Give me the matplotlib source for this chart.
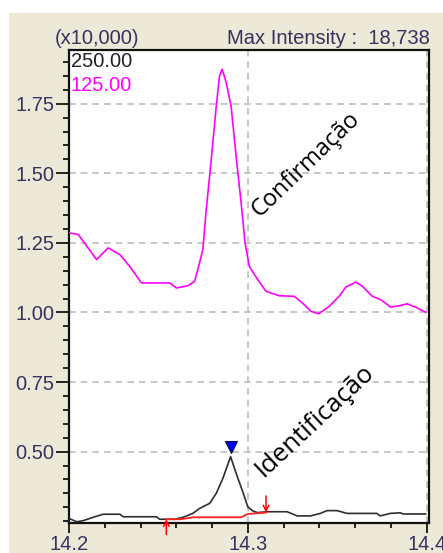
import matplotlib
matplotlib.use("Agg")
import matplotlib.pyplot as plt
from matplotlib.ticker import MultipleLocator, FormatStrFormatter
from matplotlib.transforms import offset_copy

# ---- data ----
ch125_x = [14.2000, 14.2052, 14.2154, 14.2219, 14.2284, 14.2340, 14.2405, 14.2563, 14.2600,
           14.2665, 14.2702, 14.2720, 14.2748, 14.2767, 14.2795, 14.2823, 14.2841, 14.2856,
           14.2879, 14.2906, 14.2934, 14.2962, 14.2984, 14.3008, 14.3055, 14.3101, 14.3175,
           14.3259, 14.3305, 14.3352, 14.3395, 14.3454, 14.3510, 14.3547, 14.3603, 14.3640,
           14.3695, 14.3742, 14.3798, 14.3844, 14.3890, 14.3937, 14.3993]
ch125_y = [1.286, 1.280, 1.190, 1.232, 1.208, 1.165, 1.106, 1.106, 1.088,
           1.096, 1.112, 1.154, 1.226, 1.369, 1.549, 1.741, 1.849, 1.874,
           1.825, 1.741, 1.561, 1.394, 1.250, 1.165, 1.118, 1.076, 1.060,
           1.058, 1.034, 1.004, 0.995, 1.022, 1.058, 1.091, 1.109, 1.094,
           1.058, 1.046, 1.019, 1.024, 1.031, 1.019, 1.001]

ch250_x = [14.2000, 14.2043, 14.2080, 14.2135, 14.2191, 14.2284, 14.2303, 14.2489, 14.2507,
           14.2590, 14.2637, 14.2692, 14.2730, 14.2786, 14.2823, 14.2860, 14.2903, 14.2934,
           14.2971, 14.2999, 14.3027, 14.3052, 14.3108, 14.3219, 14.3275, 14.3350, 14.3405,
           14.3442, 14.3498, 14.3554, 14.3721, 14.3739, 14.3795, 14.3851, 14.3869, 14.3993]
ch250_y = [0.260, 0.248, 0.252, 0.264, 0.275, 0.275, 0.266, 0.266, 0.257,
           0.257, 0.264, 0.278, 0.296, 0.314, 0.350, 0.404, 0.482, 0.422,
           0.356, 0.302, 0.287, 0.281, 0.284, 0.284, 0.269, 0.269, 0.278,
           0.288, 0.288, 0.278, 0.278, 0.269, 0.278, 0.280, 0.276, 0.276]

peak_x, peak_y = 14.2903, 0.482
base_x = [14.2544, 14.2627, 14.2692, 14.2962, 14.2999, 14.3101]
base_y = [0.257, 0.257, 0.264, 0.264, 0.276, 0.281]

legend_labels = ["250.00", "125.00"]
yticks = [0.50, 0.75, 1.00, 1.25, 1.50, 1.75]
xticks = [14.2, 14.3, 14.4]

# ---- style ----
W, H = 443, 553
BEIGE = "#ECE9D8"
TXT = "#3b2f5e"
fig = plt.figure(figsize=(W / 100, H / 100), dpi=100, facecolor="white")
# beige panel (white strips at top and left)
fig.patches.append(plt.Rectangle((9 / W, 0), 1 - 9 / W, 1 - 13 / H,
                                 transform=fig.transFigure, facecolor=BEIGE,
                                 edgecolor="none", zorder=-10))

ax = fig.add_axes([69 / W, (H - 522.7) / H, (429 - 69) / W, (522.7 - 50) / H])
ax.set_facecolor("white")
ax.set_xlim(14.2, 14.4012)
ax.set_ylim(0.2446, 1.943)

ax.set_xticks(xticks)
ax.xaxis.set_major_formatter(FormatStrFormatter("%.1f"))
ax.xaxis.set_minor_locator(MultipleLocator(0.02))
ax.set_yticks(yticks)
ax.yaxis.set_major_formatter(FormatStrFormatter("%.2f"))
ax.yaxis.set_minor_locator(MultipleLocator(0.05))

ax.tick_params(axis="both", which="major", direction="out", colors="black",
               labelcolor=TXT, labelsize=14.5, width=1.2)
ax.tick_params(axis="y", which="major", length=9.5, pad=1)
ax.tick_params(axis="x", which="major", length=7.5, pad=1)
ax.tick_params(axis="y", which="minor", direction="out", length=4.5, width=1.2)
ax.tick_params(axis="x", which="minor", direction="out", length=3.5, width=1.2)
for lbl in ax.get_xticklabels() + ax.get_yticklabels():
    lbl.set_fontfamily(["Liberation Sans", "DejaVu Sans"])

for s in ax.spines.values():
    s.set_linewidth(1.6)
    s.set_color("#111111")

ax.grid(True, which="major", color="#bdbdbd", linestyle=(0, (4, 3)), linewidth=1.2)
ax.set_axisbelow(True)

ax.plot(ch125_x, ch125_y, color="#ff00ff", lw=1.2, zorder=3)
ax.plot(ch250_x, ch250_y, color="#2e2e2e", lw=1.2, zorder=3)
ax.plot(base_x, base_y, color="#ff2020", lw=1.3, zorder=4)

# peak marker slightly above the apex
tr = offset_copy(ax.transData, fig=fig, x=0, y=7, units="points")
ax.plot([peak_x], [peak_y], marker="v", markersize=8.5, color="#0000ff",
        markeredgecolor="#101040", markeredgewidth=0.8, transform=tr, zorder=5)

# baseline start / end arrows
ax.annotate("", xy=(base_x[0], base_y[0]), xytext=(0, -11), textcoords="offset points",
            arrowprops=dict(arrowstyle="->", color="red", lw=1.1, shrinkA=0, shrinkB=0),
            annotation_clip=False, zorder=6)
ax.annotate("", xy=(base_x[-1], base_y[-1]), xytext=(0, 12), textcoords="offset points",
            arrowprops=dict(arrowstyle="->", color="red", lw=1.1, shrinkA=0, shrinkB=0),
            annotation_clip=False, zorder=6)

# legend-like labels
ax.text(0.005, 0.995, legend_labels[0], transform=ax.transAxes, ha="left", va="top",
        fontsize=14.5, color="#222222", family=["Liberation Sans", "DejaVu Sans"])
ax.text(0.005, 0.945, legend_labels[1], transform=ax.transAxes, ha="left", va="top",
        fontsize=14.5, color="#ff00ff", family=["Liberation Sans", "DejaVu Sans"])

# header texts
fig.text(55 / W, 1 - 38 / H, "(x10,000)", ha="left", va="center", fontsize=14.5,
         color=TXT, family=["Liberation Sans", "DejaVu Sans"])
fig.text(430 / W, 1 - 38 / H, "Max Intensity :  18,738", ha="right", va="center",
         fontsize=14.5, color=TXT, family=["Liberation Sans", "DejaVu Sans"])

# rotated annotations
ax.text(14.3326, 1.531, "Confirmação", rotation=44, ha="center", va="center",
        rotation_mode="anchor", fontsize=17, color="black",
        family=["Open Sans", "DejaVu Sans"], zorder=7)
ax.text(14.3375, 0.612, "Identificação", rotation=43, ha="center", va="center",
        rotation_mode="anchor", fontsize=18.5, color="black",
        family=["Open Sans", "DejaVu Sans"], zorder=7)

fig.savefig("out.png", dpi=100, facecolor="white")
